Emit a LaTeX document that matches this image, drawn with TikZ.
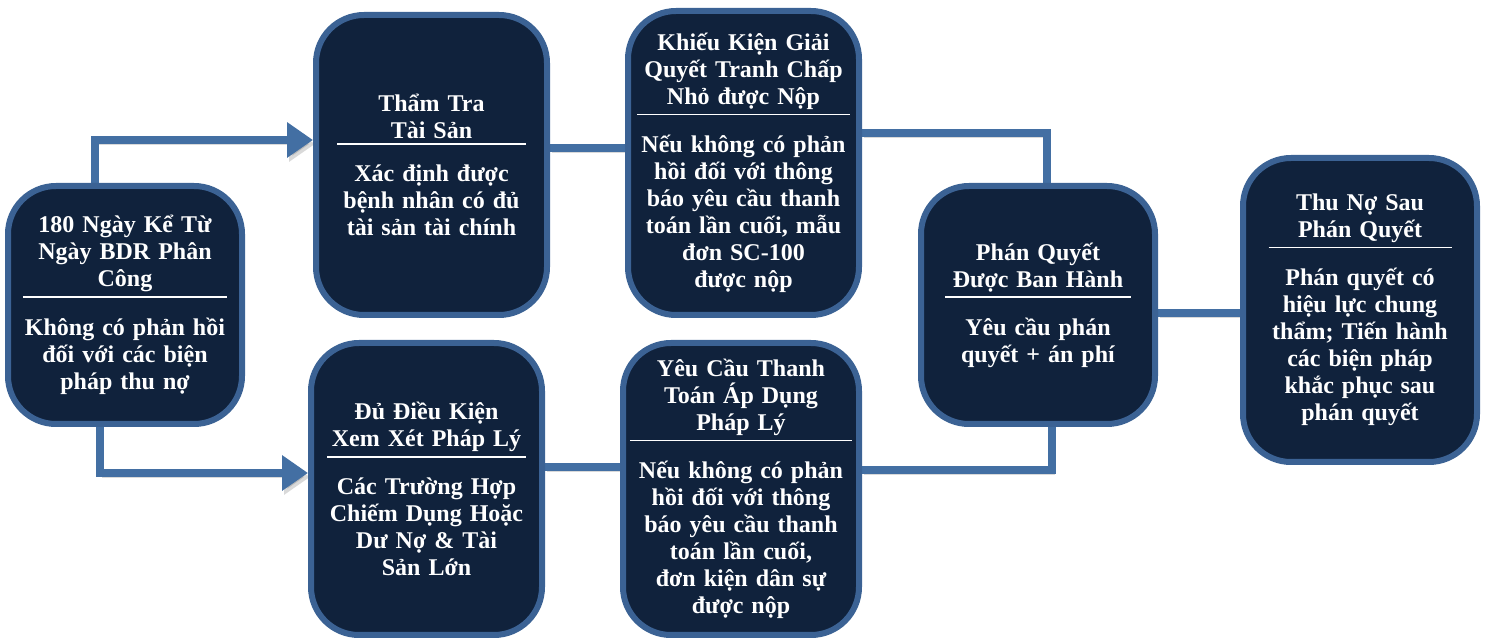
\documentclass[tikz,border=0pt]{standalone}
\usepackage{fontspec}
\setmainfont{Liberation Serif}
\usetikzlibrary{arrows.meta,backgrounds}
\definecolor{boxfill}{HTML}{10223C}
\definecolor{boxline}{HTML}{3B6294}
\definecolor{linkblue}{HTML}{436FA3}
\newcommand{\stagetext}[2]{#1\par\vspace{2pt}\hrule height 0.8pt\vspace{10pt}#2\par}
\begin{document}
\begin{tikzpicture}[x=0.5pt,y=-0.5pt,
  stage/.style={draw=boxline, line width=3pt, fill=boxfill, rounded corners=24pt,
    text=white, align=center, inner sep=0pt,
    font=\bfseries\fontsize{12}{13.5}\selectfont},
  link/.style={draw=linkblue, line width=4pt,
    preaction={draw=black, opacity=0.15, transform canvas={shift={(1pt,-2pt)}}}},
  arrowed/.style={-{Triangle[length=13pt,width=17pt]}}]
\useasboundingbox (0,0) rectangle (1485,641);
\node [stage, minimum width=117pt, minimum height=119pt, text width=102pt] (start) at (125,305)
  {\stagetext{180 Ngày Kể Từ\\Ngày BDR Phân\\Công}{Không có phản hồi\\đối với các biện\\pháp thu nợ}};
\node [stage, minimum width=115.5pt, minimum height=150pt, text width=94.5pt] (assets) at (431.5,165)
  {\stagetext{Thẩm Tra\\Tài Sản}{Xác định được\\bệnh nhân có đủ\\tài sản tài chính}};
\node [stage, minimum width=115.5pt, minimum height=152pt, text width=106.5pt] (smallclaim) at (743.5,163)
  {\stagetext{Khiếu Kiện Giải\\Quyết Tranh Chấp\\Nhỏ được Nộp}{Nếu không có phản\\hồi đối với thông\\báo yêu cầu thanh\\toán lần cuối, mẫu\\đơn SC-100\\được nộp}};
\node [stage, minimum width=115.5pt, minimum height=146pt, text width=99.5pt] (legal) at (426.5,489)
  {\stagetext{Đủ Điều Kiện\\Xem Xét Pháp Lý}{Các Trường Hợp\\Chiếm Dụng Hoặc\\Dư Nợ \& Tài\\Sản Lớn}};
\node [stage, minimum width=118pt, minimum height=146pt, text width=111pt] (demand) at (741,489)
  {\stagetext{Yêu Cầu Thanh\\Toán Áp Dụng\\Pháp Lý}{Nếu không có phản\\hồi đối với thông\\báo yêu cầu thanh\\toán lần cuối,\\đơn kiện dân sự\\được nộp}};
\node [stage, minimum width=117pt, minimum height=119pt, text width=93pt] (judgment) at (1038,305)
  {\stagetext{Phán Quyết\\Được Ban Hành}{Yêu cầu phán\\quyết + án phí}};
\node [stage, minimum width=117pt, minimum height=152pt, text width=91.5pt] (collect) at (1360,310)
  {\stagetext{Thu Nợ Sau\\Phán Quyết}{Phán quyết có\\hiệu lực chung\\thẩm; Tiến hành\\các biện pháp\\khắc phục sau\\phán quyết}};
\begin{scope}[on background layer]
\draw [link, arrowed] ([xshift=-15pt]start.north) |- ([yshift=12.5pt]assets.west);
\draw [link, arrowed] ([xshift=-12.5pt]start.south) |- ([yshift=8pt]legal.west);
\draw [link] ([yshift=8.5pt]assets.east) -- ([yshift=8.5pt]assets.east -| smallclaim.west);
\draw [link] ([yshift=15pt]smallclaim.east) -| ([xshift=4.5pt]judgment.north);
\draw [link] ([yshift=11pt]legal.east) -- ([yshift=11pt]legal.east -| demand.west);
\draw [link] ([yshift=9.5pt]demand.east) -| ([xshift=7pt]judgment.south);
\draw [link] ([yshift=-4pt]judgment.east) -- ([yshift=-4pt]judgment.east -| collect.west);
\end{scope}
\end{tikzpicture}
\end{document}
